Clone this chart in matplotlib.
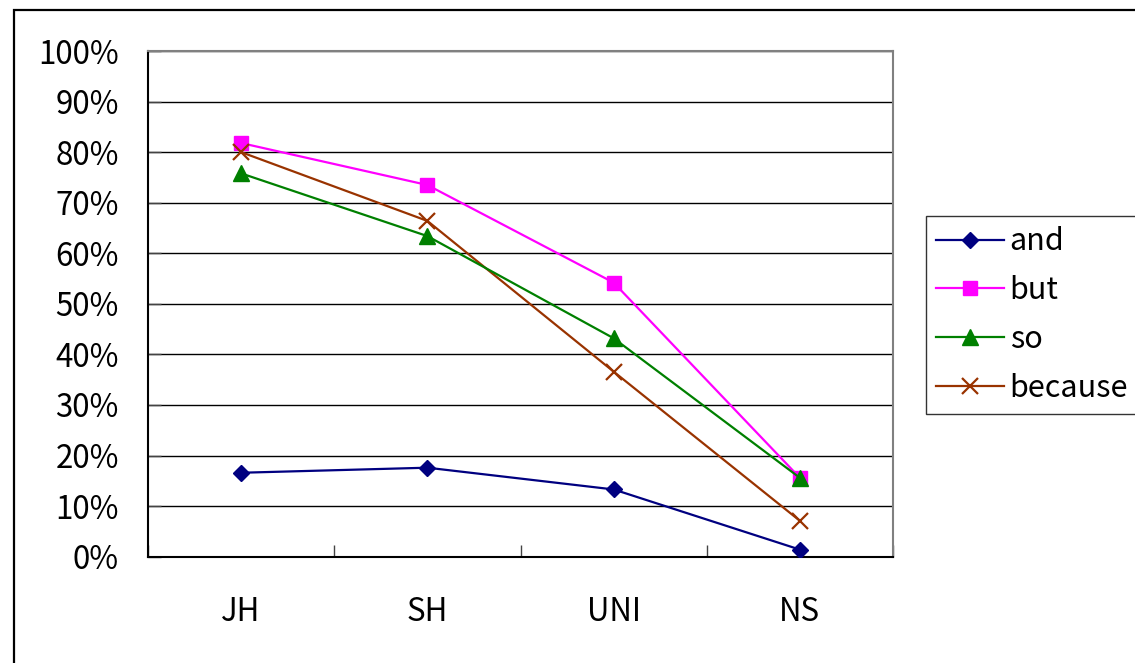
import numpy as np
import matplotlib.pyplot as plt
from matplotlib.patches import Rectangle
from matplotlib.ticker import FuncFormatter

plt.rcParams['font.family'] = ['Noto Sans CJK JP', 'DejaVu Sans']

# groups and share of each connective
groups = ["JH", "SH", "UNI", "NS"]
and_pct = [16.6, 17.6, 13.3, 1.4]
but_pct = [81.8, 73.5, 54.2, 15.6]
so_pct = [75.8, 63.4, 43.2, 15.6]
because_pct = [80.0, 66.4, 36.6, 7.1]

fig = plt.figure(figsize=(11.35, 6.63), dpi=100)
ax = fig.add_axes([148 / 1135, 1 - 556.7 / 663, 745 / 1135, 505.7 / 663])

x = np.arange(len(groups)) + 0.5
ax.plot(x, and_pct, color="#000080", lw=1.6, marker="D", ms=8,
        mec="#000080", label="and", zorder=3)
ax.plot(x, but_pct, color="#FF00FF", lw=1.6, marker="s", ms=10,
        mec="#FF00FF", label="but", zorder=3)
ax.plot(x, so_pct, color="#008000", lw=1.6, marker="^", ms=11,
        mec="#008000", label="so", zorder=4)
ax.plot(x, because_pct, color="#993300", lw=1.6, marker="x", ms=11,
        mew=1.6, label="because", zorder=3)

ax.set_xlim(0, 4)
ax.set_ylim(0, 100)
ax.set_yticks(np.arange(0, 101, 10))
ax.yaxis.set_major_formatter(FuncFormatter(lambda v, p: "%d%%" % v))
ax.set_xticks([0, 1, 2, 3, 4])
ax.set_xticklabels([])
ax.set_xticks(x, minor=True)
ax.set_xticklabels(groups, minor=True)
ax.tick_params(axis="x", which="major", direction="in", length=9, width=1,
               color="#444444")
ax.tick_params(axis="x", which="minor", length=0, pad=28, labelsize=22.5)
ax.tick_params(axis="y", direction="in", length=9, width=1, pad=21,
               labelsize=22.5, color="#444444")
ax.grid(axis="y", color="black", lw=1)
ax.set_axisbelow(True)

for s in ["left", "bottom"]:
    ax.spines[s].set_color("black")
    ax.spines[s].set_linewidth(1.5)
for s in ["top", "right"]:
    ax.spines[s].set_color("#808080")
    ax.spines[s].set_linewidth(1.5)

leg = fig.legend(loc="upper left", bbox_to_anchor=(926 / 1135, 1 - 216 / 663),
                 bbox_transform=fig.transFigure, borderaxespad=0,
                 fontsize=22, frameon=True, fancybox=False, handlelength=2.2,
                 handletextpad=0.2, labelspacing=0.58, borderpad=0.34)
leg.get_frame().set_edgecolor("black")
leg.get_frame().set_linewidth(1)

# outer chart border
fig.patches.append(Rectangle((14 / 1135, -0.2), 1.2, 0.2 + (1 - 10 / 663),
                             transform=fig.transFigure, fill=False,
                             edgecolor="black", lw=1.6, clip_on=False))

fig.savefig("out.png", dpi=100)
